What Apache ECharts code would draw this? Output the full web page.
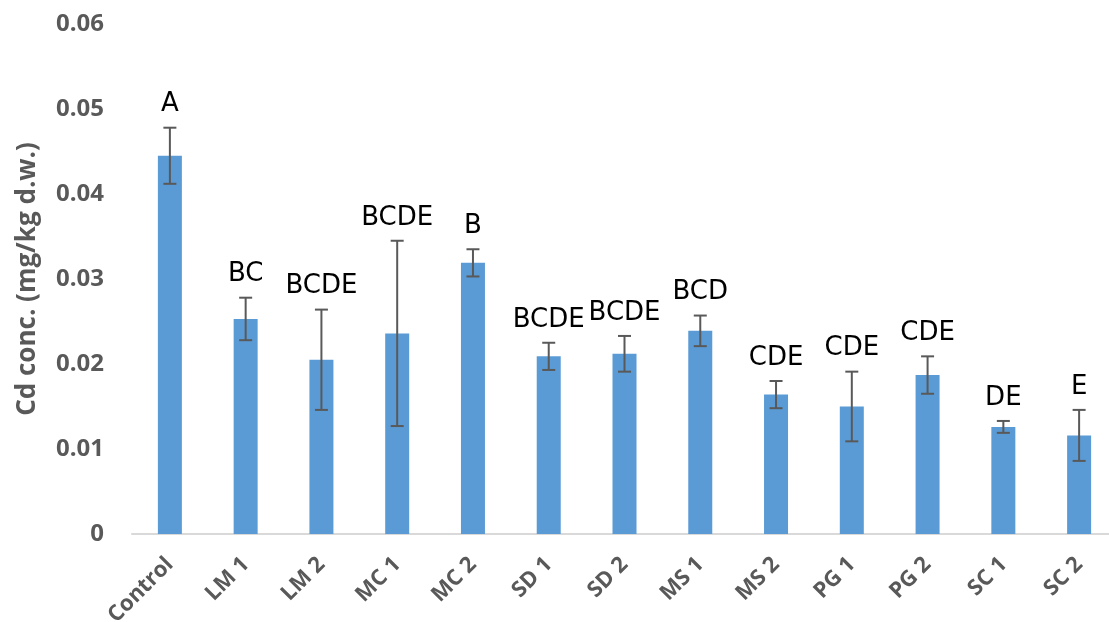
<!DOCTYPE html>
<html>
<head>
<meta charset="utf-8">
<script src="https://cdn.jsdelivr.net/npm/echarts@6/dist/echarts.min.js"></script>
<style>
html,body{margin:0;padding:0;background:#fff;}
#chart{width:1109px;height:622px;}
</style>
</head>
<body>
<div id="chart"></div>
<script>
var categories = ['Control','LM 1','LM 2','MC 1','MC 2','SD 1','SD 2','MS 1','MS 2','PG 1','PG 2','SC 1','SC 2'];
var means = [0.0445,0.0253,0.0205,0.0236,0.0319,0.0209,0.0212,0.0239,0.0164,0.0150,0.0187,0.0126,0.0116];
var errors = [0.0033,0.0025,0.0059,0.0109,0.0016,0.0016,0.0021,0.0018,0.0016,0.0041,0.0022,0.0007,0.0030];
var letters = ['A','BC','BCDE','BCDE','B','BCDE','BCDE','BCD','CDE','CDE','CDE','DE','E'];
var yTicks = [0,0.01,0.02,0.03,0.04,0.05,0.06];

var errData = means.map(function(m,i){ return [i, m - errors[i], m + errors[i], letters[i]]; });

var chart = echarts.init(document.getElementById('chart'), null, {renderer:'canvas'});
chart.setOption({
  animation:false,
  backgroundColor:'#ffffff',
  grid:{left:132, top:24, width:985, height:510, containLabel:false, outerBoundsMode:'none'},
  xAxis:{
    type:'category', data:categories,
    axisLine:{lineStyle:{color:'#D9D9D9', width:2}},
    axisTick:{show:false},
    axisLabel:{rotate:45, interval:0, margin:27, color:'#595959', fontFamily:'Open Sans', fontWeight:'bold', fontSize:22}
  },
  yAxis:{
    type:'value', min:yTicks[0], max:yTicks[yTicks.length-1], interval:0.01,
    name:'Cd conc. (mg/kg d.w.)', nameLocation:'middle', nameGap:91,
    nameTextStyle:{color:'#595959', fontFamily:'Open Sans', fontWeight:'bold', fontSize:26},
    axisLine:{show:false}, axisTick:{show:false}, splitLine:{show:false},
    axisLabel:{margin:28, color:'#595959', fontFamily:'Open Sans', fontWeight:'bold', fontSize:24,
      formatter:function(v){ return v===0 ? '0' : v.toFixed(2); }}
  },
  series:[
    {type:'bar', data:means, barWidth:24, itemStyle:{color:'#5B9BD5'}, z:2},
    {type:'custom', data:errData, z:3,
      renderItem:function(params, api){
        var x = api.value(0);
        var lo = api.coord([x, api.value(1)]);
        var hi = api.coord([x, api.value(2)]);
        var hw = 6.5;
        var st = {stroke:'#595959', lineWidth:2};
        return {type:'group', children:[
          {type:'line', shape:{x1:lo[0],y1:lo[1],x2:hi[0],y2:hi[1]}, style:st},
          {type:'line', shape:{x1:lo[0]-hw,y1:lo[1],x2:lo[0]+hw,y2:lo[1]}, style:st},
          {type:'line', shape:{x1:hi[0]-hw,y1:hi[1],x2:hi[0]+hw,y2:hi[1]}, style:st},
          {type:'text', style:{x:hi[0], y:hi[1]-10, text:api.value(3), align:'center', verticalAlign:'bottom',
            fill:'#000000', font:'26px "DejaVu Sans"'}}
        ]};
      }
    }
  ]
});
</script>
</body>
</html>
